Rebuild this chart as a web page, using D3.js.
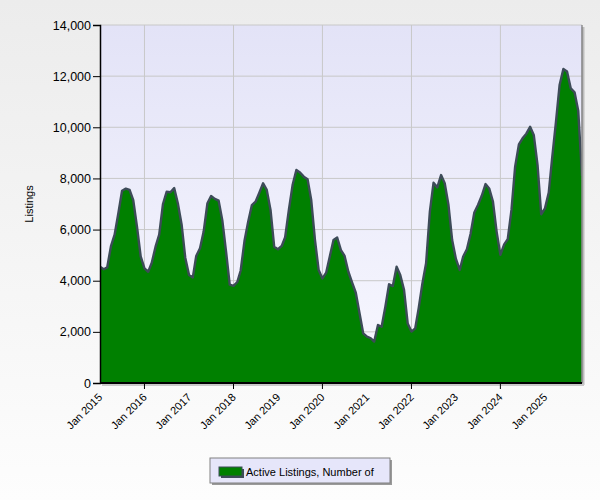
<!DOCTYPE html>
<html><head><meta charset="utf-8">
<script src="https://cdn.jsdelivr.net/npm/d3@7"></script>
<style>html,body{margin:0;padding:0;overflow:hidden;} svg{display:block;}</style>
</head><body>
<svg id="c" width="600" height="500"></svg>
<script>
const startYear = 2015;
const values2015 = [4550,4450,4520,5350,5800,6650,7520,7600,7550,7150,6100,4950];
const values2016 = [4480,4350,4700,5330,5800,7000,7480,7460,7620,7030,6200,4900];
const values2017 = [4220,4130,4970,5270,5920,7030,7310,7200,7130,6370,5140,3850];
const values2018 = [3800,3950,4400,5550,6300,6960,7090,7440,7810,7550,6770,5330];
const values2019 = [5230,5360,5700,6790,7740,8330,8230,8070,7970,7160,5590,4420];
const values2020 = [4090,4320,4940,5590,5690,5200,4970,4350,3920,3530,2720,1940];
const values2021 = [1810,1750,1620,2270,2200,2990,3860,3790,4550,4220,3640,2330];
const values2022 = [2010,2140,2920,3900,4680,6700,7830,7650,8130,7810,6960,5590];
const values2023 = [4850,4420,4940,5230,5830,6670,6960,7320,7780,7610,7090,5920];
const values2024 = [5010,5420,5620,6770,8460,9330,9570,9750,10020,9700,8530,6600];
const values2025 = [6830,7450,8800,10200,11650,12280,12180,11520,11370,10650,8100];
const yTicks = [0,2000,4000,6000,8000,10000,12000,14000];
const xTickYears = [2015,2016,2017,2018,2019,2020,2021,2022,2023,2024,2025];
const gridYears = [2016,2018,2020,2022,2024];
const seriesName = "Active Listings, Number of";
const yTitle = "Listings";

const allYears = [values2015,values2016,values2017,values2018,values2019,values2020,values2021,values2022,values2023,values2024,values2025];
const data = [];
allYears.forEach((arr, yi) => arr.forEach((v, m) => data.push({date: new Date(startYear + yi, m, 1), value: v})));

const W = 600, H = 500;
const L = 100, R = 582, T = 25, B = 383;
const svg = d3.select("#c");
const defs = svg.append("defs");
const bg = defs.append("linearGradient").attr("id","bg").attr("x1",0).attr("y1",0).attr("x2",0).attr("y2",1);
bg.append("stop").attr("offset","0%").attr("stop-color","#ececec");
bg.append("stop").attr("offset","100%").attr("stop-color","#fdfdfd");
const pg = defs.append("linearGradient").attr("id","pg").attr("x1",0).attr("y1",0).attr("x2",0).attr("y2",1);
pg.append("stop").attr("offset","0%").attr("stop-color","#e3e3f7");
pg.append("stop").attr("offset","100%").attr("stop-color","#f8f8ff");
defs.append("clipPath").attr("id","clip").append("rect").attr("x",L).attr("y",T-5).attr("width",R-L).attr("height",B-T+5);

svg.append("rect").attr("width",W).attr("height",H).attr("fill","url(#bg)");

const x = d3.scaleTime().domain([new Date(2015,0,1), new Date(2025,10,1)]).range([L,R]);
const y = d3.scaleLinear().domain([0,14000]).range([B,T]);

// plot background
svg.append("rect").attr("x",L).attr("y",T).attr("width",R-L).attr("height",B-T).attr("fill","url(#pg)");

// grid
const g = svg.append("g");
g.selectAll("line.hy").data(yTicks.filter(d=>d>0)).enter().append("line")
  .attr("x1",L).attr("x2",R).attr("y1",d=>y(d)).attr("y2",d=>y(d))
  .attr("stroke","#c8c8c8").attr("stroke-width",1);
g.selectAll("line.vx").data(gridYears).enter().append("line")
  .attr("x1",d=>x(new Date(d,0,1))).attr("x2",d=>x(new Date(d,0,1)))
  .attr("y1",T).attr("y2",B).attr("stroke","#c8c8c8").attr("stroke-width",1);

// area
const area = d3.area().x(d=>x(d.date)).y0(y(0)).y1(d=>y(d.value)).curve(d3.curveLinear);
const line = d3.line().x(d=>x(d.date)).y(d=>y(d.value)).curve(d3.curveLinear);
const pa = svg.append("g").attr("clip-path","url(#clip)");
pa.append("path").datum(data).attr("d",area).attr("fill","#008000");
pa.append("path").datum(data).attr("d",line).attr("fill","none").attr("stroke","#3d4b58").attr("stroke-width",2.4).attr("stroke-linejoin","round");

// right border shadow
svg.append("line").attr("x1",R+1).attr("x2",R+1).attr("y1",T+2).attr("y2",B+2).attr("stroke","#bdbdbd").attr("stroke-width",3);
svg.append("line").attr("x1",R).attr("x2",R).attr("y1",T).attr("y2",B).attr("stroke","#777").attr("stroke-width",1.2);
// bottom shadow
svg.append("line").attr("x1",L+2).attr("x2",R+2).attr("y1",B+2).attr("y2",B+2).attr("stroke","#c8c8c8").attr("stroke-width",2);

// axes
const yAxis = d3.axisLeft(y).tickValues(yTicks).tickSize(7).tickFormat(d3.format(","));
const ya = svg.append("g").attr("transform",`translate(${L},0)`).call(yAxis);
ya.select(".domain").attr("stroke","#000").attr("stroke-width",1.5);
ya.selectAll(".tick line").attr("stroke","#000");
ya.selectAll(".tick text").attr("font-family","'Liberation Sans', Arial, sans-serif").attr("font-size","12.5px").attr("fill","#000").attr("x",-9);

const xa = svg.append("g").attr("transform",`translate(0,${B})`);
xa.append("line").attr("x1",L).attr("x2",R).attr("y1",0).attr("y2",0).attr("stroke","#000").attr("stroke-width",2);
xa.selectAll("line.t").data(gridYears).enter().append("line")
  .attr("x1",d=>x(new Date(d,0,1))).attr("x2",d=>x(new Date(d,0,1)))
  .attr("y1",0).attr("y2",6).attr("stroke","#000").attr("stroke-width",1);
const fmt = d3.timeFormat("Jan %Y");
xa.selectAll("text").data(xTickYears).enter().append("text")
  .attr("transform",d=>`translate(${x(new Date(d,0,1))+3},15) rotate(-45)`)
  .attr("text-anchor","end")
  .attr("font-family","'Liberation Sans', Arial, sans-serif").attr("font-size","11px").attr("fill","#000")
  .text(d=>fmt(new Date(d,0,1)));

// y title
svg.append("text").attr("transform","translate(33,204) rotate(-90)").attr("text-anchor","middle")
  .attr("font-family","'Liberation Sans', Arial, sans-serif").attr("font-size","11px").attr("fill","#000").text(yTitle);

// legend
const lg = svg.append("g");
lg.append("rect").attr("x",212).attr("y",460).attr("width",180).attr("height",25).attr("fill","#9a9a9a");
lg.append("rect").attr("x",210).attr("y",458).attr("width",180).attr("height",25).attr("fill","#e6e6fa").attr("stroke","#808080").attr("stroke-width",1);
lg.append("rect").attr("x",221).attr("y",469).attr("width",23).attr("height",9).attr("fill","#3d4b58");
lg.append("rect").attr("x",219).attr("y",467).attr("width",23).attr("height",9).attr("fill","#008000").attr("stroke","#3d4b58").attr("stroke-width",1);
lg.append("text").attr("x",246).attr("y",475.5).attr("font-family","'Liberation Sans', Arial, sans-serif").attr("font-size","11px").attr("fill","#000").text(seriesName);
</script>
</body></html>
